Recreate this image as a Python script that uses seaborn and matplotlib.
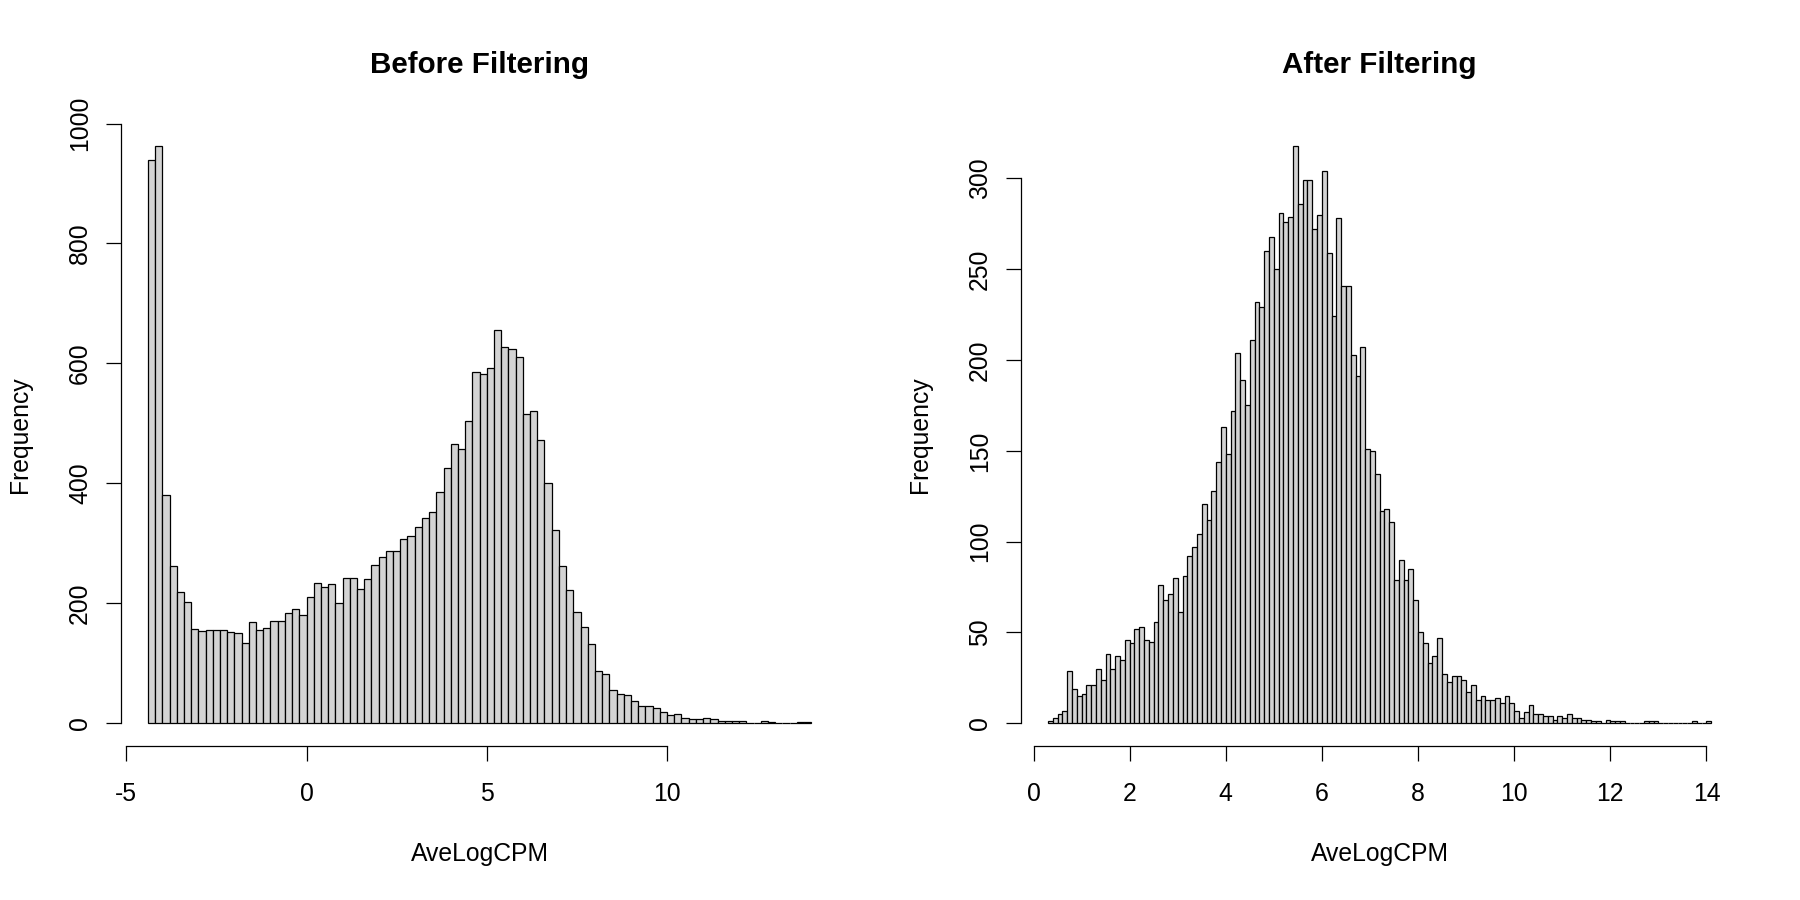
import numpy as np
import pandas as pd
import matplotlib
matplotlib.use("Agg")
import matplotlib.pyplot as plt
import seaborn as sns

# histogram breaks (start, bin width) and counts
before_start, before_width = -4.4, 0.2
before_counts = [939, 963, 380, 263, 219, 203, 158, 154, 155, 156,
                 156, 152, 151, 134, 169, 156, 159, 170, 171, 184,
                 191, 180, 210, 234, 228, 232, 201, 243, 243, 224,
                 241, 264, 277, 288, 287, 308, 313, 328, 343, 353,
                 386, 426, 466, 458, 504, 585, 582, 593, 656, 628,
                 624, 610, 516, 520, 473, 401, 323, 263, 222, 185,
                 161, 133, 87, 83, 56, 49, 47, 37, 28, 29,
                 26, 19, 13, 16, 9, 7, 7, 9, 7, 3,
                 3, 4, 3, 1, 1, 3, 2, 1, 1, 0,
                 2, 2]

after_start, after_width = 0.3, 0.1
after_counts = [1, 3, 5, 7, 29, 19, 15, 16, 21, 21,
                30, 24, 38, 30, 37, 35, 46, 44, 52, 53,
                46, 45, 56, 76, 68, 71, 80, 61, 81, 92,
                97, 104, 121, 112, 128, 144, 163, 148, 172, 204,
                189, 175, 211, 232, 229, 260, 268, 250, 281, 276,
                279, 318, 286, 299, 299, 272, 280, 304, 259, 224,
                278, 241, 241, 203, 191, 207, 151, 150, 137, 117,
                118, 111, 79, 90, 79, 85, 68, 50, 44, 33,
                37, 47, 27, 23, 26, 26, 24, 17, 21, 13,
                15, 13, 13, 14, 11, 15, 11, 7, 3, 6,
                10, 5, 5, 4, 4, 2, 4, 3, 5, 3,
                3, 2, 2, 1, 1, 0, 2, 1, 1, 1,
                0, 0, 0, 0, 1, 1, 1, 0, 0, 0,
                0, 0, 0, 0, 1, 0, 0, 1]

before_xticks = [-5, 0, 5, 10]
before_yticks = [0, 200, 400, 600, 800, 1000]
after_xticks = [0, 2, 4, 6, 8, 10, 12, 14]
after_yticks = [0, 50, 100, 150, 200, 250, 300]

FONT_SIZE = 17.8
LW = 0.9


def r_hist(ax, start, width, counts, title, xticks, yticks):
    n = len(counts)
    lo, hi = start, round(start + width * n, 3)
    df = pd.DataFrame({'mid': lo + width * (np.arange(n) + 0.5), 'count': counts})
    sns.histplot(data=df, x='mid', weights='count', bins=n, binrange=(lo, hi),
                 stat='count', color='#D3D3D3', edgecolor='black',
                 linewidth=LW, alpha=1, ax=ax)
    # R-style 4% axis extension
    pad = 0.04 * (hi - lo)
    ax.set_xlim(lo - pad, hi + pad)
    ax.set_ylim(-0.04 * max(counts), 1.04 * max(counts))
    ax.set_xticks(xticks)
    ax.set_xticklabels([str(t) for t in xticks])
    ax.set_yticks(yticks)
    ax.set_yticklabels([str(t) for t in yticks], rotation=90, va='center')
    for side in ['top', 'right']:
        ax.spines[side].set_visible(False)
    ax.spines['left'].set_bounds(yticks[0], yticks[-1])
    ax.spines['bottom'].set_bounds(xticks[0], xticks[-1])
    for side in ['left', 'bottom']:
        ax.spines[side].set_linewidth(LW)
        ax.spines[side].set_color('black')
    ax.tick_params(axis='both', direction='out', length=11, width=LW,
                   labelsize=FONT_SIZE, color='black', labelcolor='black',
                   bottom=True, left=True)
    ax.tick_params(axis='x', pad=14.5)
    ax.tick_params(axis='y', pad=10)
    ax.set_title(title, fontsize=FONT_SIZE * 1.2, fontweight='bold', pad=36, color='black')
    ax.set_xlabel('AveLogCPM', fontsize=FONT_SIZE, labelpad=26, color='black')
    ax.set_ylabel('Frequency', fontsize=FONT_SIZE, labelpad=26, color='black')
    ax.grid(False)


def main():
    sns.set_style('ticks')
    plt.rcParams['font.family'] = ['Liberation Sans', 'DejaVu Sans']
    plt.rcParams['axes.unicode_minus'] = False
    fig = plt.figure(figsize=(18, 9), dpi=100)
    ax1 = fig.add_axes([0.06744, 0.17067, 0.398, 0.69311])
    ax2 = fig.add_axes([0.56744, 0.17067, 0.398, 0.69311])
    r_hist(ax1, before_start, before_width, before_counts, 'Before Filtering',
           before_xticks, before_yticks)
    r_hist(ax2, after_start, after_width, after_counts, 'After Filtering',
           after_xticks, after_yticks)
    fig.savefig('out.png', dpi=100, facecolor='white')


if __name__ == '__main__':
    main()
